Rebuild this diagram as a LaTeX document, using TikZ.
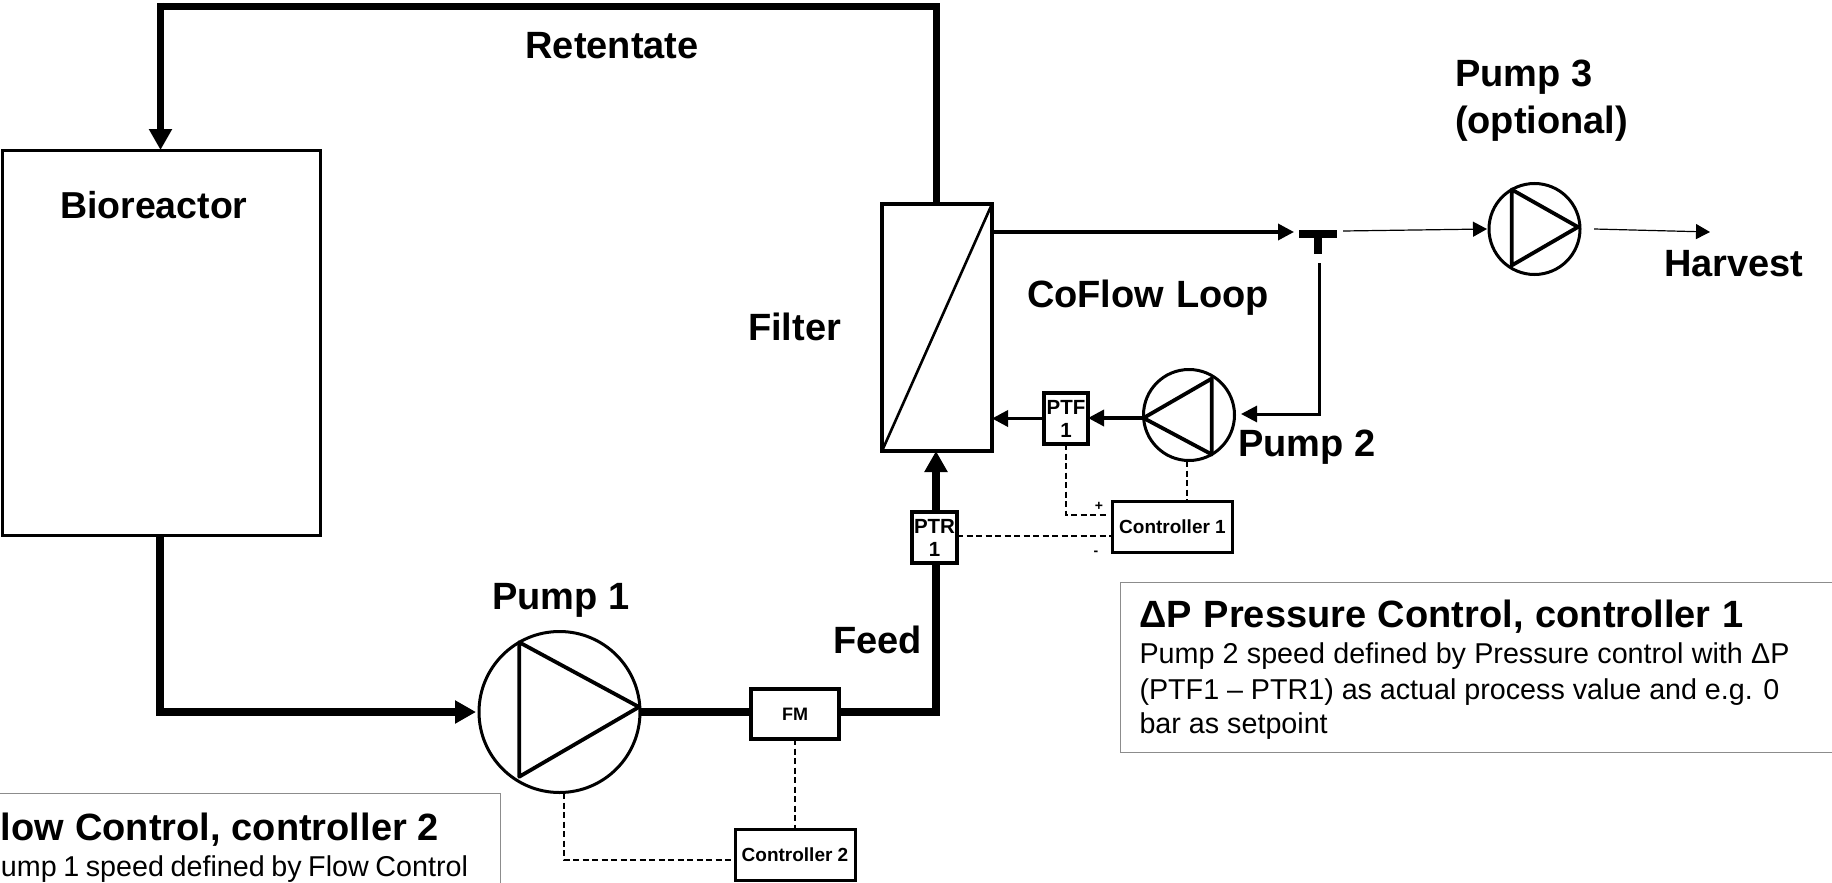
\documentclass[tikz,border=0pt]{standalone}
\usepackage{fontspec}
\setmainfont{Liberation Sans}
\usetikzlibrary{arrows.meta,calc}
\tikzset{
  every node/.style={inner sep=0pt,outer sep=0pt},
  lab/.style={font=\fontsize{38}{38}\selectfont\bfseries,anchor=base west},
  labr/.style={lab,anchor=base east},
  body/.style={font=\fontsize{28.7}{28.7}\selectfont,anchor=base west},
  bodyr/.style={body,anchor=base east},
  inst/.style={draw,line width=3.2pt,align=center,font=\fontsize{20.5}{23}\selectfont\bfseries},
  ctrl/.style={draw,line width=3pt,font=\fontsize{19}{19}\selectfont\bfseries},
  pump/.style={draw,circle,line width=3pt},
  tri/.style={line width=3.8pt,line join=round},
  heavy/.style={line width=7.3pt,-{Triangle[length=21pt,width=22pt]}},
  heavyplain/.style={line width=7.3pt},
  mid/.style={line width=3.5pt,-{Triangle[length=16pt,width=16pt]}},
  fine/.style={line width=1.2pt,-{Triangle[length=14pt,width=15pt]}},
  sig/.style={line width=2pt,dash pattern=on 6pt off 3.5pt},
  note/.style={draw=black!45,line width=1pt},
}
\begin{document}
\begin{tikzpicture}[x=1pt,y=-1pt]
\useasboundingbox (0,0) rectangle (1832,883);
\clip (0,0) rectangle (1832,883);
% note boxes
\node[note,minimum width=720pt,minimum height=170pt,anchor=north west] (noteR) at (1120.5,582) {};
\node[note,minimum width=600pt,minimum height=200pt,anchor=north east] (noteL) at (500.5,793) {};
% process blocks
\node[draw,line width=3pt,minimum width=318pt,minimum height=385pt,anchor=north west] (bio) at (2,150) {};
\node[draw,line width=3.5pt,minimum width=110pt,minimum height=247pt,anchor=north west] (filter) at (882,204) {};
\draw[line width=2.6pt] (filter.south west) -- (filter.north east);
% pumps
\node[pump,minimum size=161pt] (p1) at (559.5,712) {};
\draw[tri] (p1.120) -- ($(p1.240)+(0,-5)$) -- ($(p1.0)+(-1,-5)$) -- cycle;
\node[pump,minimum size=91pt] (p2) at (1189,415) {};
\draw[tri] ($(p2.180)+(0,3)$) -- ($(p2.60)+(0,3)$) -- ($(p2.-60)+(0,0)$) -- cycle;
\node[pump,minimum size=91pt] (p3) at (1534.5,229) {};
\draw[tri] (p3.120) -- ($(p3.240)+(0,-3)$) -- ($(p3.0)+(-2,-2)$) -- cycle;
% instruments
\node[inst,minimum width=44pt,minimum height=51pt] (ptf) at (1066,418.5) {PTF\\1};
\node[inst,minimum width=45pt,minimum height=51pt] (ptr) at (934.5,537.5) {PTR\\1};
\node[inst,minimum width=88pt,minimum height=50pt,font=\fontsize{18}{18}\selectfont\bfseries] (fm) at (795,714) {FM};
\node[ctrl,minimum width=120pt,minimum height=51pt] (c1) at (1172.5,527) {Controller 1};
\node[ctrl,minimum width=120pt,minimum height=51pt] (c2) at (795,855) {Controller 2};
% tee
\node[fill=black,minimum width=38pt,minimum height=8pt,anchor=north] (teebar) at (1318,230) {};
\node[fill=black,minimum width=8pt,minimum height=16pt,anchor=north] (teestem) at (teebar.south) {};
% free ends
\coordinate (retA) at (936.5,6.5);
\coordinate (retB) at (164,6.5);
\coordinate (retV) at (160.5,3);
\coordinate (bioC) at (160,712);
\coordinate (p1in) at (476,712);
\coordinate (feedC) at (936,712);
\coordinate (tip1) at (1294,232);
\coordinate (out1) at (992,232);
\coordinate (loopT) at (1319,263);
\coordinate (loopC) at (1319,414);
\coordinate (loopE) at (1241,414);
\coordinate (f3a) at (1343,231);
\coordinate (f3b) at (1487,229);
\coordinate (f4a) at (1594,229);
\coordinate (f4b) at (1710,232);
\coordinate (p2out) at (1143,418);
% heavy flow
\draw[heavyplain,line join=miter] (filter.north -| retA) -- (retA) -- (retB);
\draw[heavy] (retV) -- (retV |- bio.north);
\draw[heavy,line join=miter] (bioC |- bio.south) -- (bioC) -- (p1in);
\draw[heavyplain] (p1.0) -- (fm.west |- p1.0);
\draw[heavyplain,line join=miter] (fm.east |- feedC) -- (feedC) -- (feedC |- ptr.south);
\draw[heavy] (feedC |- ptr.north) -- (feedC |- filter.south);
% medium flow
\draw[mid] (out1) -- (tip1);
\draw[line width=3pt,-{Triangle[length=16pt,width=16pt]}] (loopT) -- (loopC) -- (loopE);
\draw[mid] (p2out) -- (p2out -| ptf.east);
\draw[mid] (ptf.west) -- (ptf.west -| filter.east);
% fine flow
\draw[fine] (f3a) -- (f3b);
\draw[fine] (f4a) -- (f4b);
% signals
\coordinate (plusC) at (1066,515);
\coordinate (plusE) at (1107,515);
\coordinate (minusE) at (1112,536);
\coordinate (p2sig) at (1187,461);
\coordinate (c2sig) at (735,860);
\draw[sig] (ptf.south) -- (plusC) -- (plusE);
\draw[sig] (ptr.east |- minusE) -- (minusE);
\draw[sig] (p2sig) -- (p2sig |- c1.north);
\draw[sig] (fm.south) -- (c2.north);
\coordinate (p1sig) at (564,793);
\draw[sig] (p1sig) -- (p1sig |- c2sig) -- (c2sig);
% labels
\node[lab] (tRet) at (525.5,59) {Retentate};
\node[lab,font=\fontsize{37.5}{37.5}\selectfont\bfseries] (tBio) at (60,218) {Bioreactor};
\node[lab] (tFil) at (748,340) {Filter};
\node[lab] (tCo) at (1027,307) {\makebox[242pt][s]{CoFlow Loop}};
\node[lab] (tP2) at (1238,456) {Pump 2};
\node[lab] (tP3a) at (1455,86) {Pump 3};
\node[lab] (tP3b) at (1455,133) {(optional)};
\node[lab] (tHar) at (1664,276) {Harvest};
\node[lab] (tP1) at (492,609) {Pump 1};
\node[lab] (tFeed) at (833,653) {Feed};
\node[font=\fontsize{14}{14}\selectfont\bfseries] (plus) at (1099,506) {+};
\node[font=\fontsize{14}{14}\selectfont\bfseries] (minus) at (1096,553) {-};
% notes
\node[lab] (nRt) at (1139.5,627.5) {\makebox[604pt][s]{ΔP Pressure Control, controller 1}};
\node[body] (nR1) at (1139.5,663) {\makebox[650pt][s]{Pump 2 speed defined by Pressure control with ΔP}};
\node[body] (nR2) at (1139.5,699) {\makebox[640pt][s]{(PTF1 – PTR1) as actual process value and e.g. 0}};
\node[body] (nR3) at (1139.5,733) {bar as setpoint};
\node[labr] (nLt) at (439,840) {\makebox[438pt][s]{low Control, controller 2}};
\node[bodyr] (nL1) at (468,876) {\makebox[467pt][s]{ump 1 speed defined by Flow Control}};
\end{tikzpicture}
\end{document}
